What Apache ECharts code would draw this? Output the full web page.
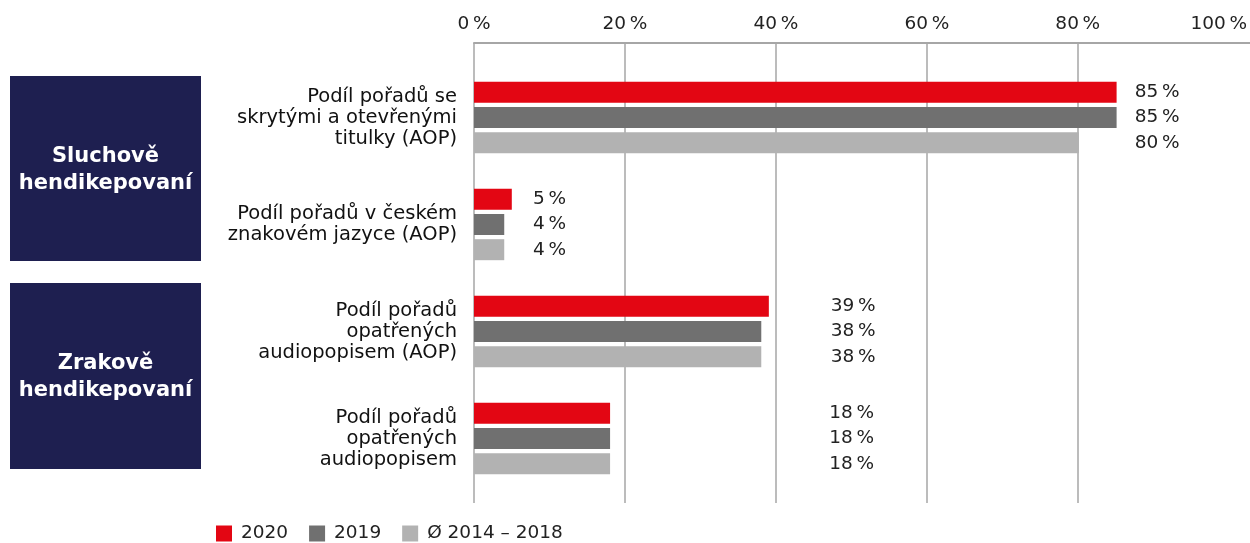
<!DOCTYPE html>
<html>
<head>
<meta charset="utf-8">
<script src="https://cdn.jsdelivr.net/npm/echarts@6/dist/echarts.min.js"></script>
<style>
  html, body { margin: 0; padding: 0; background: #fff; }
  #chart { width: 1250px; height: 543px; }
</style>
</head>
<body>
<div id="chart"></div>
<script>
// Categories (shown top to bottom) and the share of programmes per period, in %
const categories = [
  'Podíl pořadů se\nskrytými a otevřenými\ntitulky (AOP)',
  'Podíl pořadů v českém\nznakovém jazyce (AOP)',
  'Podíl pořadů\nopatřených\naudiopopisem (AOP)',
  'Podíl pořadů\nopatřených\naudiopopisem'
];
const seriesNames = ['2020', '2019', 'Ø 2014 – 2018'];
const values2020 = [85, 5, 39, 18];
const values2019 = [85, 4, 38, 18];
const valuesAvg = [80, 4, 38, 18];
const xTicks = [0, 20, 40, 60, 80, 100];

// Group headers on the left
const groupTitles = ['Sluchově\nhendikepovaní', 'Zrakově\nhendikepovaní'];

// Layout
const FONT = '"DejaVu Sans", "Noto Sans", sans-serif';
const TEXT = '#222';
const GRID_LEFT = 474;
const GRID_RIGHT = 20;
const plotWidth = 1250 - GRID_LEFT - GRID_RIGHT;
const xMin = xTicks[0];
const xMax = xTicks[xTicks.length - 1];
const pxPerUnit = plotWidth / (xMax - xMin);
// value column (in axis units) at which each category's labels start
const labelColumn = [87.4, 7.8, 47.2, 47.0];
const colors = ['#e30613', '#707070', '#b2b2b2'];
const LINE = '#a6a6a6';

function makeSeries(name, values, color) {
  return {
    name: name,
    type: 'bar',
    xAxisIndex: 0,
    yAxisIndex: 0,
    barWidth: 21,
    barGap: '20%',
    itemStyle: { color: color },
    data: values.map((v, i) => ({
      value: v,
      label: {
        show: true,
        position: [labelColumn[i] * pxPerUnit, '50%'],
        align: 'left',
        verticalAlign: 'middle',
        formatter: '{c}\u2009%',
        color: TEXT,
        fontFamily: FONT,
        fontSize: 18.5
      }
    }))
  };
}

const chart = echarts.init(document.getElementById('chart'), null, { renderer: 'canvas' });

chart.setOption({
  animation: false,
  backgroundColor: '#fff',
  color: colors,
  legend: {
    data: seriesNames,
    left: 216,
    top: 524,
    padding: 0,
    itemWidth: 16,
    itemHeight: 16,
    itemGap: 21,
    icon: 'rect',
    textStyle: { color: TEXT, fontFamily: FONT, fontSize: 18.5, padding: [0, 0, 0, 4] }
  },
  grid: [
    // bars
    { left: GRID_LEFT, right: GRID_RIGHT, top: 64, height: 428 },
    // vertical gridlines and tick labels
    { left: GRID_LEFT, right: GRID_RIGHT, top: 43, height: 460 },
    // top rule running to the right edge
    { left: GRID_LEFT, right: 0, top: 43, height: 460 }
  ],
  xAxis: [
    {
      gridIndex: 0, type: 'value', min: xMin, max: xMax, interval: 20,
      show: false
    },
    {
      gridIndex: 1, type: 'value', min: xMin, max: xMax, interval: 20,
      position: 'top',
      axisLine: { show: false },
      axisTick: { show: false },
      splitLine: { show: true, showMaxLine: false, lineStyle: { color: LINE, width: 1.5 } },
      axisLabel: {
        margin: 9,
        color: TEXT,
        fontFamily: FONT,
        fontSize: 18.5,
        formatter: v => v === xMax ? '{edge|' + v + '\u2009%}' : v + '\u2009%',
        rich: { edge: { fontFamily: FONT, fontSize: 18.5, color: TEXT, padding: [0, 20, 0, 0] } }
      }
    },
    {
      gridIndex: 2, type: 'value', min: 0, max: 1,
      position: 'top',
      axisLine: { show: true, lineStyle: { color: LINE, width: 2 } },
      axisTick: { show: false },
      axisLabel: { show: false },
      splitLine: { show: false }
    }
  ],
  yAxis: [
    {
      gridIndex: 0, type: 'category', data: categories, inverse: true,
      axisLine: { show: false },
      axisTick: { show: false },
      axisLabel: {
        margin: 17,
        align: 'right',
        color: '#111',
        fontFamily: FONT,
        fontSize: 19.5,
        lineHeight: 21
      }
    },
    {
      gridIndex: 1, type: 'category', data: [''],
      axisLine: { show: false },
      axisTick: { show: false },
      axisLabel: { show: false }
    },
    {
      gridIndex: 2, type: 'category', data: [''],
      show: false
    }
  ],
  graphic: [
    { type: 'rect', shape: { x: 10, y: 76, width: 191, height: 185 }, style: { fill: '#1e1f50' } },
    { type: 'rect', shape: { x: 10, y: 283, width: 191, height: 186 }, style: { fill: '#1e1f50' } },
    {
      type: 'text', x: 105.5, y: 170,
      style: {
        text: groupTitles[0], fill: '#fff', align: 'center', verticalAlign: 'middle',
        font: 'bold 21px ' + FONT, lineHeight: 27
      }
    },
    {
      type: 'text', x: 105.5, y: 377,
      style: {
        text: groupTitles[1], fill: '#fff', align: 'center', verticalAlign: 'middle',
        font: 'bold 21px ' + FONT, lineHeight: 27
      }
    }
  ],
  series: [
    makeSeries(seriesNames[0], values2020, colors[0]),
    makeSeries(seriesNames[1], values2019, colors[1]),
    makeSeries(seriesNames[2], valuesAvg, colors[2])
  ]
});
</script>
</body>
</html>
